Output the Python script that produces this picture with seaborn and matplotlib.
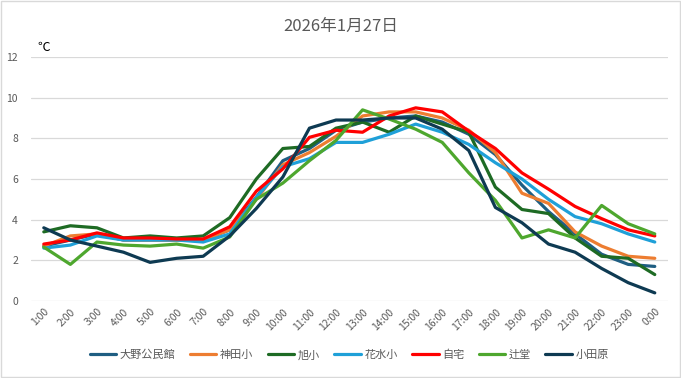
import pandas as pd
import matplotlib.pyplot as plt
import seaborn as sns
from matplotlib.patches import Rectangle

# Hourly temperatures (°C), 2026-01-27
hours = ["1:00", "2:00", "3:00", "4:00", "5:00", "6:00", "7:00", "8:00", "9:00", "10:00",
         "11:00", "12:00", "13:00", "14:00", "15:00", "16:00", "17:00", "18:00", "19:00",
         "20:00", "21:00", "22:00", "23:00", "0:00"]

ohno = [2.7, 3.0, 3.3, 3.0, 3.0, 3.0, 3.0, 3.5, 5.1, 6.9, 7.5, 8.4, 8.8, 9.0, 9.1, 8.8,
        8.2, 7.2, 5.7, 4.4, 3.3, 2.3, 1.8, 1.7]
kanda = [2.7, 3.2, 3.3, 3.0, 3.0, 3.0, 3.0, 3.5, 5.0, 6.7, 7.3, 8.1, 9.1, 9.3, 9.3, 9.0,
         8.4, 7.3, 5.3, 4.8, 3.4, 2.7, 2.2, 2.1]
asahi = [3.4, 3.7, 3.6, 3.1, 3.2, 3.1, 3.2, 4.1, 6.0, 7.5, 7.6, 8.5, 8.8, 8.3, 9.1, 8.7,
         8.3, 5.6, 4.5, 4.3, 3.1, 2.2, 2.1, 1.3]
hanamizu = [2.6, 2.75, 3.2, 3.0, 3.0, 3.0, 2.9, 3.3, 5.1, 6.6, 7.0, 7.8, 7.8, 8.2, 8.7, 8.3,
            7.7, 6.8, 6.0, 5.0, 4.15, 3.8, 3.3, 2.9]
jitaku = [2.8, 3.0, 3.35, 3.1, 3.1, 3.05, 3.05, 3.65, 5.4, 6.5, 8.05, 8.4, 8.3, 9.1, 9.5, 9.3,
          8.35, 7.5, 6.3, 5.5, 4.65, 4.05, 3.5, 3.2]
tsujido = [2.65, 1.8, 2.9, 2.75, 2.7, 2.8, 2.6, 3.15, 5.0, 5.8, 6.9, 7.9, 9.4, 8.95, 8.45, 7.8,
           6.3, 4.95, 3.1, 3.5, 3.1, 4.7, 3.8, 3.3]
odawara = [3.6, 3.0, 2.7, 2.4, 1.9, 2.1, 2.2, 3.2, 4.55, 6.1, 8.5, 8.9, 8.9, 9.0, 9.0, 8.45,
           7.4, 4.6, 3.85, 2.8, 2.4, 1.6, 0.9, 0.4]

names = ["大野公民館", "神田小", "旭小", "花水小", "自宅", "辻堂", "小田原"]
series = [ohno, kanda, asahi, hanamizu, jitaku, tsujido, odawara]
colors = ["#1f5e82", "#ed7d31", "#1e6b24", "#1fa0d8", "#ff0000", "#4ea72e", "#0e3a52"]

rows = []
for name, vals in zip(names, series):
    for h, v in zip(hours, vals):
        rows.append({"time": h, "temp": v, "site": name})
df = pd.DataFrame(rows)

sns.set_style("white")
plt.rcParams["font.family"] = ["Noto Sans CJK JP", "DejaVu Sans"]

fig = plt.figure(figsize=(6.81, 3.78), dpi=100)
ax = fig.add_axes([0.0448, 0.2037, 0.9362, 0.6455])

sns.lineplot(data=df, x="time", y="temp", hue="site", palette=colors,
             linewidth=2.3, sort=False, ax=ax)

ax.set_xlim(-0.5, len(hours) - 0.5)
ax.set_ylim(0, 12)
ax.set_yticks([0, 2, 4, 6, 8, 10, 12])
ax.grid(axis="y", color="#d9d9d9", linewidth=0.9)
ax.set_axisbelow(True)
for s in ax.spines.values():
    s.set_visible(False)
ax.tick_params(axis="y", length=0, colors="#595959", labelsize=7.5, pad=9)
ax.tick_params(axis="x", length=0, colors="#595959", labelsize=7.5, pad=4)
ax.set_xticks(range(len(hours)))
ax.set_xticklabels(hours, rotation=45, ha="right", rotation_mode="anchor",
                   fontsize=7.5, color="#595959")
ax.set_xlabel("")
ax.set_ylabel("")

fig.text(0.5, 0.93, "2026年1月27日", ha="center", va="center", fontsize=12, color="#595959")
fig.text(0.055, 0.875, "℃", ha="left", va="center", fontsize=9, color="black")

ax.legend(loc="center", bbox_to_anchor=(0.5, -0.222), ncol=7, frameon=False,
          fontsize=8, handlelength=2.4, columnspacing=1.3, handletextpad=0.3,
          labelcolor="#595959")

fig.add_artist(Rectangle((0.001, 0.002), 0.997, 0.995, transform=fig.transFigure,
                         fill=False, edgecolor="#d9d9d9", linewidth=1))

fig.savefig("out.png", dpi=100)
